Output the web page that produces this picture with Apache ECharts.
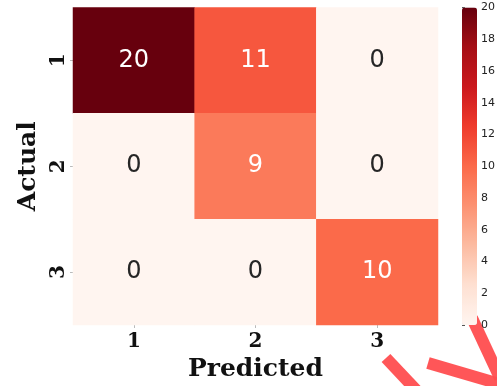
<!DOCTYPE html>
<html>
<head>
<meta charset="utf-8">
<script src="https://cdn.jsdelivr.net/npm/echarts@6/dist/echarts.min.js"></script>
<style>
  html, body { margin: 0; padding: 0; background: #fff; }
  #chart { width: 497px; height: 386px; }
</style>
</head>
<body>
<div id="chart"></div>
<script>
// Confusion matrix: rows = actual class, columns = predicted class
const predictedLabels = ['1', '2', '3'];
const actualLabels = ['1', '2', '3'];
const row1 = [20, 11, 0];
const row2 = [0, 9, 0];
const row3 = [0, 0, 10];
const matrixRows = [row1, row2, row3];
const colorbarTicks = [0, 2, 4, 6, 8, 10, 12, 14, 16, 18, 20];

// Sequential "Reds" palette
const reds = ['#fff5f0', '#fee0d2', '#fcbba1', '#fc9272', '#fb6a4a',
              '#ef3b2c', '#cb181d', '#a50f15', '#67000d'];

const cells = [];
matrixRows.forEach((row, r) => {
  row.forEach((v, c) => {
    cells.push({
      value: [c, r, v],
      label: { color: v > 5 ? '#ffffff' : '#262626' }
    });
  });
});

const serifBold = { fontFamily: 'DejaVu Serif', fontWeight: 'bold', color: '#111' };

const chart = echarts.init(document.getElementById('chart'), null, { renderer: 'canvas' });
chart.setOption({
  animation: false,
  backgroundColor: '#ffffff',
  grid: [
    { left: 73, top: 7.5, width: 365, height: 317.5, containLabel: false, outerBoundsMode: 'none' },
    { left: 462, top: 7.5, width: 15, height: 317.5, containLabel: false, outerBoundsMode: 'none' }
  ],
  xAxis: [
    {
      type: 'category', gridIndex: 0, data: predictedLabels,
      axisLine: { show: false },
      axisTick: { show: true, alignWithLabel: true, length: 3, lineStyle: { color: '#bbb' } },
      splitLine: { show: false },
      axisLabel: Object.assign({ fontSize: 20, margin: 7 }, serifBold),
      name: 'Predicted', nameLocation: 'middle', nameGap: 31,
      nameTextStyle: Object.assign({ fontSize: 25 }, serifBold)
    },
    { type: 'value', gridIndex: 1, show: false, min: 0, max: 1 }
  ],
  yAxis: [
    {
      type: 'category', gridIndex: 0, data: actualLabels, inverse: true,
      axisLine: { show: false },
      axisTick: { show: true, alignWithLabel: true, length: 3, lineStyle: { color: '#bbb' } },
      splitLine: { show: false },
      axisLabel: Object.assign({ fontSize: 20, margin: 4, rotate: 90 }, serifBold),
      name: 'Actual', nameLocation: 'middle', nameGap: 31, nameRotate: 90,
      nameTextStyle: Object.assign({ fontSize: 25 }, serifBold)
    },
    {
      type: 'value', gridIndex: 1, position: 'right', min: 0, max: 20, interval: 2,
      axisLine: { show: false },
      axisTick: { show: true, length: 3, lineStyle: { color: '#555' } },
      splitLine: { show: false },
      axisLabel: {
        fontSize: 11, margin: 4, color: '#222', fontFamily: 'DejaVu Sans',
        formatter: v => colorbarTicks.includes(v) ? String(v) : ''
      }
    }
  ],
  visualMap: {
    type: 'continuous',
    min: 0, max: 20,
    seriesIndex: 0,
    calculable: false,
    orient: 'vertical',
    left: 462, top: 7.5,
    itemWidth: 15, itemHeight: 317.5,
    padding: 0,
    text: null,
    showLabel: false,
    inRange: { color: reds }
  },
  series: [{
    type: 'heatmap',
    xAxisIndex: 0, yAxisIndex: 0,
    data: cells,
    label: {
      show: true,
      fontSize: 24,
      fontFamily: 'DejaVu Sans',
      formatter: p => String(p.value[2])
    },
    itemStyle: { borderWidth: 0 },
    emphasis: { disabled: true }
  }],
  graphic: [
    // decorative brush strokes in the lower-right corner
    {
      type: 'group', silent: true, children: [
        { type: 'polyline', shape: { points: [[386, 358], [418, 392]] },
          style: { stroke: '#ff4d4f', lineWidth: 12, opacity: 0.95 } },
        { type: 'polyline', shape: { points: [[428, 363], [500, 384]] },
          style: { stroke: '#ff4d4f', lineWidth: 12, opacity: 0.95 } },
        { type: 'polyline', shape: { points: [[472, 318], [500, 378]] },
          style: { stroke: '#ff4d4f', lineWidth: 12, opacity: 0.95 } }
      ]
    }
  ]
});
</script>
</body>
</html>
